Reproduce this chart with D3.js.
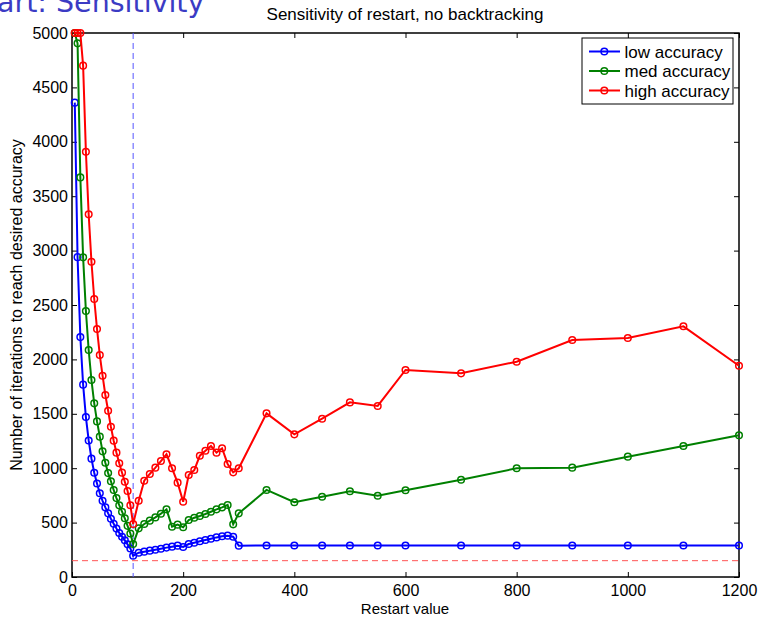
<!DOCTYPE html>
<html>
<head>
<meta charset="utf-8">
<script src="https://cdn.jsdelivr.net/npm/d3@7"></script>
<style>
  body { margin: 0; background: #fff; }
  svg { display: block; font-family: "Liberation Sans", Arial, sans-serif; }
</style>
</head>
<body>
<svg id="chart" width="759" height="617"></svg>
<script>
// Restart values used on the x axis
const restartValues = [
  5, 10, 15, 20, 25, 30, 35, 40, 45, 50, 55, 60, 65, 70, 75, 80, 85, 90, 95, 100, 105, 110,
  120, 130, 140, 150, 160, 170, 180, 190, 200, 210, 220, 230, 240, 250, 260, 270, 280, 290, 300,
  350, 400, 450, 500, 550, 600, 700, 800, 900, 1000, 1100, 1200,
];

// Iterations needed for each accuracy level
const lowAccuracy = [
  4360, 2940, 2205, 1768, 1470, 1255, 1088, 958, 860, 770, 700, 640, 585, 535, 490, 445, 405, 370, 338, 300, 262, 195,
  223, 233, 242, 251, 260, 270, 279, 288, 276, 303, 315, 328, 340, 352, 364, 374, 380, 370, 288,
  290, 290, 290, 290, 290, 290, 290, 290, 290, 290, 290, 290,
];
const medAccuracy = [
  5000, 4905, 3673, 2938, 2445, 2086, 1810, 1596, 1430, 1290, 1155, 1050, 955, 880, 800, 725, 660, 600, 540, 470, 400, 303,
  447, 487, 518, 548, 582, 622, 462, 481, 457, 524, 545, 561, 579, 600, 622, 640, 662, 484, 585,
  800, 687, 738, 788, 747, 797, 894, 999, 1005, 1106, 1204, 1302,
];
const highAccuracy = [
  5000, 5000, 5000, 4700, 3909, 3333, 2898, 2555, 2280, 2040, 1850, 1673, 1528, 1381, 1253, 1143, 1045, 959, 876, 790, 660, 487,
  701, 885, 947, 1005, 1066, 1128, 999, 867, 692, 937, 983, 1115, 1161, 1204, 1143, 1183, 1039, 962, 999,
  1504, 1311, 1455, 1605, 1572, 1903, 1872, 1979, 2178, 2197, 2304, 1942,
];

const seriesNames = ["low accuracy", "med accuracy", "high accuracy"];
const seriesColors = ["#0000ff", "#008000", "#ff0000"];
const xTicks = [0, 200, 400, 600, 800, 1000, 1200];
const yTicks = [0, 500, 1000, 1500, 2000, 2500, 3000, 3500, 4000, 4500, 5000];
const chosenRestart = 110;
const targetLevel = 150;

const svg = d3.select("#chart");
const plotLeft = 72, plotRight = 739, plotTop = 33, plotBottom = 577;

const x = d3.scaleLinear().domain([0, 1200]).range([plotLeft, plotRight]);
const y = d3.scaleLinear().domain([0, 5000]).range([plotBottom, plotTop]);

// Slide heading cut off at the top of the screenshot
svg.append("text")
  .attr("x", -3)
  .attr("y", 12)
  .attr("font-family", "DejaVu Sans, sans-serif")
  .attr("font-size", 28.5)
  .attr("fill", "#3b3bc4")
  .text("art: Sensitivity");

// Axes with inward ticks, mirrored on top and right
const tickLen = 5;
const fmt = d3.format("d");
svg.append("g")
  .attr("transform", `translate(0,${plotBottom})`)
  .call(d3.axisBottom(x).tickValues(xTicks).tickFormat(fmt).tickSizeInner(-tickLen).tickSizeOuter(0).tickPadding(8))
  .call(g => g.select(".domain").remove());
svg.append("g")
  .attr("transform", `translate(0,${plotTop})`)
  .call(d3.axisTop(x).tickValues(xTicks).tickSizeInner(-tickLen).tickSizeOuter(0).tickFormat(""))
  .call(g => g.select(".domain").remove());
svg.append("g")
  .attr("transform", `translate(${plotLeft},0)`)
  .call(d3.axisLeft(y).tickValues(yTicks).tickFormat(fmt).tickSizeInner(-tickLen).tickSizeOuter(0).tickPadding(4))
  .call(g => g.select(".domain").remove());
svg.append("g")
  .attr("transform", `translate(${plotRight},0)`)
  .call(d3.axisRight(y).tickValues(yTicks).tickSizeInner(-tickLen).tickSizeOuter(0).tickFormat(""))
  .call(g => g.select(".domain").remove());

svg.selectAll(".tick text").attr("font-size", 16).attr("fill", "#000")
  .attr("font-family", "Liberation Sans, Arial, sans-serif");
svg.selectAll(".tick line").attr("stroke", "#000");

// Frame around the plot area
svg.append("rect")
  .attr("x", plotLeft).attr("y", plotTop)
  .attr("width", plotRight - plotLeft).attr("height", plotBottom - plotTop)
  .attr("fill", "none").attr("stroke", "#000").attr("stroke-width", 1.5);

// Dashed reference lines
svg.append("line")
  .attr("x1", x(chosenRestart)).attr("x2", x(chosenRestart))
  .attr("y1", plotTop).attr("y2", plotBottom)
  .attr("stroke", "#5555ff").attr("stroke-width", 1).attr("stroke-dasharray", "6,4");
svg.append("line")
  .attr("x1", plotLeft).attr("x2", plotRight)
  .attr("y1", y(targetLevel)).attr("y2", y(targetLevel))
  .attr("stroke", "#ff5555").attr("stroke-width", 1).attr("stroke-dasharray", "6,4");

// Series lines and circle markers
const allSeries = [lowAccuracy, medAccuracy, highAccuracy];
const line = d3.line().x((d, i) => x(restartValues[i])).y(d => y(d));

allSeries.forEach((values, s) => {
  const g = svg.append("g");
  g.append("path")
    .datum(values)
    .attr("d", line)
    .attr("fill", "none")
    .attr("stroke", seriesColors[s])
    .attr("stroke-width", 2);
  g.selectAll("circle")
    .data(values)
    .join("circle")
    .attr("cx", (d, i) => x(restartValues[i]))
    .attr("cy", d => y(d))
    .attr("r", 3.3)
    .attr("fill", "none")
    .attr("stroke", seriesColors[s])
    .attr("stroke-width", 1.5);
});

// Title and axis labels
svg.append("text")
  .attr("x", 405).attr("y", 20)
  .attr("text-anchor", "middle").attr("font-size", 17)
  .text("Sensitivity of restart, no backtracking");
svg.append("text")
  .attr("x", 405).attr("y", 614)
  .attr("text-anchor", "middle").attr("font-size", 15)
  .text("Restart value");
svg.append("text")
  .attr("transform", "translate(22,305) rotate(-90)")
  .attr("text-anchor", "middle").attr("font-size", 16)
  .text("Number of iterations to reach desired accuracy");

// Legend box
const legend = svg.append("g").attr("transform", "translate(582,38)");
legend.append("rect")
  .attr("width", 151).attr("height", 66)
  .attr("fill", "#fff").attr("stroke", "#000").attr("stroke-width", 1);
seriesNames.forEach((name, i) => {
  const ry = 13.5 + i * 19.5;
  legend.append("line")
    .attr("x1", 7).attr("x2", 38).attr("y1", ry).attr("y2", ry)
    .attr("stroke", seriesColors[i]).attr("stroke-width", 2);
  legend.append("circle")
    .attr("cx", 22.3).attr("cy", ry).attr("r", 3.3)
    .attr("fill", "none").attr("stroke", seriesColors[i]).attr("stroke-width", 1.5);
  legend.append("text")
    .attr("x", 42.5).attr("y", ry + 6)
    .attr("font-size", 17)
    .text(name);
});
</script>
</body>
</html>
